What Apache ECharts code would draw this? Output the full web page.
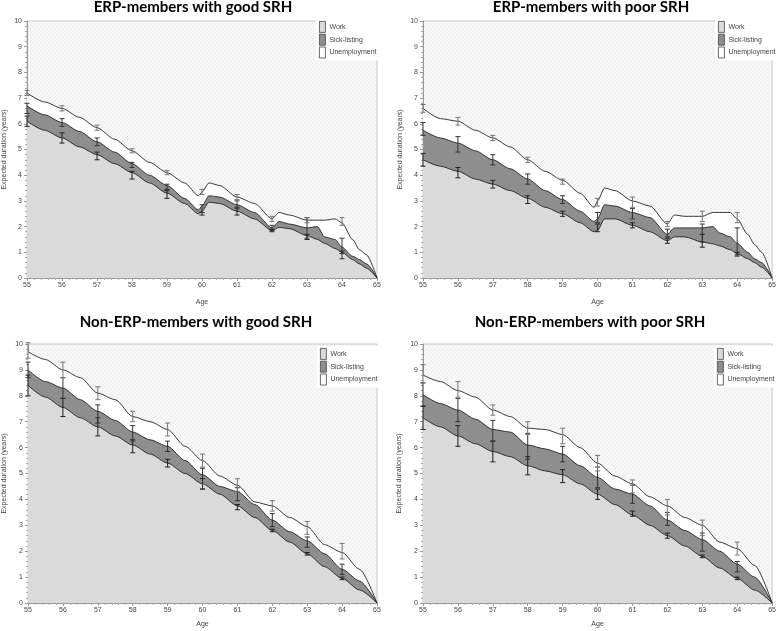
<!DOCTYPE html>
<html><head><meta charset="utf-8">
<script src="https://cdn.jsdelivr.net/npm/echarts@6/dist/echarts.min.js"></script>
<style>html,body{margin:0;padding:0;background:#fff}#c{width:779px;height:631px}</style>
</head><body><div id="c"></div>
<script>
// ---------- data ----------
const titles = ['ERP-members with good SRH','ERP-members with poor SRH','Non-ERP-members with good SRH','Non-ERP-members with poor SRH'];
const legendNames = ['Work','Sick-listing','Unemployment'];
const xTicks = [55,56,57,58,59,60,61,62,63,64,65];
const yTicks = [0,1,2,3,4,5,6,7,8,9,10];

// age grid for ERP panels
const agesTop = [55,55.5,56,56.5,57,57.5,58,58.5,59,59.5,59.9,60,60.2,60.5,61,61.5,62,62.2,62.5,63,63.3,63.5,63.8,64,64.3,64.5,64.7,65];
// age grid for non-ERP panels
const agesBottom = [55,55.5,56,56.5,57,57.5,58,58.5,59,59.5,60,60.5,61,61.5,62,62.5,63,63.5,64,64.5,65];

// panel 1: ERP good SRH (cumulative boundaries)
const p1Work  = [6.1,5.75,5.45,5.1,4.8,4.45,4.1,3.7,3.3,2.9,2.5,2.6,2.95,2.9,2.6,2.3,1.85,1.97,1.92,1.65,1.5,1.35,1.15,1.0,0.72,0.55,0.38,0];
const p1Sick  = [6.7,6.35,6.05,5.7,5.3,4.9,4.45,4.0,3.6,3.1,2.65,2.8,3.2,3.15,2.85,2.55,1.95,2.2,2.1,1.95,2.0,1.6,1.5,1.2,0.85,0.72,0.55,0];
const p1Total = [7.2,6.85,6.6,6.25,5.85,5.4,4.95,4.5,4.1,3.7,3.2,3.35,3.7,3.6,3.15,2.9,2.3,2.55,2.45,2.25,2.25,2.25,2.3,2.15,1.5,1.1,0.9,0];
// panel 2: ERP poor SRH
const p2Work  = [4.6,4.35,4.15,3.85,3.65,3.4,3.1,2.75,2.5,2.15,1.8,1.85,2.3,2.3,2.05,1.8,1.45,1.6,1.6,1.4,1.33,1.25,1.1,0.95,0.75,0.6,0.42,0];
const p2Sick  = [5.75,5.45,5.25,4.95,4.6,4.25,3.85,3.4,3.05,2.6,2.2,2.3,2.85,2.8,2.55,2.35,1.7,1.95,1.95,1.95,2.0,1.75,1.6,1.35,1.0,0.75,0.6,0];
const p2Total = [6.6,6.2,6.1,5.75,5.45,5.1,4.6,4.15,3.8,3.3,2.75,3.0,3.5,3.4,3.0,2.8,2.1,2.45,2.4,2.4,2.55,2.55,2.55,2.3,1.7,1.3,1.0,0];
// panel 3: non-ERP good SRH
const p3Work  = [8.4,7.95,7.55,7.15,6.8,6.45,6.1,5.75,5.4,5.0,4.6,4.2,3.75,3.3,2.8,2.35,1.9,1.4,0.95,0.5,0];
const p3Sick  = [9.0,8.55,8.3,7.85,7.4,7.05,6.6,6.3,6.05,5.5,4.95,4.5,4.3,3.8,3.2,2.75,2.4,1.9,1.3,0.85,0];
const p3Total = [9.7,9.4,9.0,8.7,8.1,7.85,7.2,7.0,6.7,6.05,5.5,4.9,4.55,3.9,3.75,3.3,2.95,2.25,1.95,1.3,0];
// panel 4: non-ERP poor SRH
const p4Work  = [7.15,6.8,6.45,6.15,5.85,5.65,5.3,5.1,4.95,4.6,4.2,3.8,3.4,3.0,2.6,2.2,1.8,1.35,0.95,0.5,0];
const p4Sick  = [8.05,7.7,7.45,7.1,6.7,6.6,6.1,5.95,5.75,5.3,4.85,4.4,4.2,3.75,3.2,2.8,2.45,2.0,1.5,1.0,0];
const p4Total = [8.8,8.55,8.2,7.95,7.45,7.2,6.75,6.7,6.5,6.0,5.4,4.9,4.6,4.1,3.75,3.3,3.0,2.35,2.1,1.45,0];

// error bars at integer ages: estimate and half-width
const errAges = [55,56,57,58,59,60,61,62,63,64];
const p1WorkMid  = [6.1,5.45,4.75,4.0,3.25,2.5,2.6,1.85,1.6,1.0];
const p1WorkHalf = [0.2,0.2,0.15,0.15,0.15,0.05,0.15,0.05,0.1,0.05];
const p1SickMid  = [6.6,6.05,5.3,4.4,3.55,2.7,2.85,1.95,1.95,1.15];
const p1SickHalf = [0.2,0.15,0.15,0.1,0.1,0.15,0.15,0.1,0.4,0.4];
const p1TotMid   = [7.2,6.6,5.85,4.95,4.1,3.35,3.15,2.3,2.25,2.2];
const p1TotHalf  = [0.1,0.1,0.1,0.08,0.08,0.1,0.1,0.1,0.1,0.15];

const p2WorkMid  = [4.6,4.1,3.65,3.05,2.5,1.95,2.05,1.45,1.45,0.95];
const p2WorkHalf = [0.25,0.2,0.15,0.15,0.1,0.15,0.1,0.1,0.25,0.05];
const p2SickMid  = [5.8,5.2,4.6,3.85,3.05,2.35,2.5,1.75,1.75,1.4];
const p2SickHalf = [0.25,0.3,0.2,0.2,0.15,0.2,0.2,0.15,0.35,0.55];
const p2TotMid   = [6.6,6.1,5.45,4.6,3.75,2.95,2.95,2.1,2.4,2.35];
const p2TotHalf  = [0.15,0.15,0.1,0.1,0.1,0.15,0.2,0.1,0.2,0.2];

const p3WorkMid  = [8.4,7.55,6.8,6.05,5.4,4.6,3.7,2.8,1.9,0.95];
const p3WorkHalf = [0.4,0.35,0.35,0.25,0.15,0.2,0.1,0.05,0.05,0.05];
const p3SickMid  = [9.0,8.3,7.3,6.55,6.05,4.8,4.2,3.2,2.35,1.3];
const p3SickHalf = [0.3,0.4,0.35,0.3,0.2,0.4,0.25,0.25,0.2,0.2];
const p3TotMid   = [9.75,9.0,8.1,7.2,6.7,5.5,4.55,3.75,2.9,2.0];
const p3TotHalf  = [0.3,0.3,0.25,0.2,0.25,0.25,0.25,0.2,0.25,0.3];

const p4WorkMid  = [7.15,6.45,5.85,5.3,4.9,4.2,3.45,2.6,1.8,0.95];
const p4WorkHalf = [0.45,0.4,0.4,0.35,0.25,0.2,0.1,0.1,0.05,0.05];
const p4SickMid  = [8.05,7.45,6.65,6.05,5.75,4.85,4.2,3.25,2.35,1.4];
const p4SickHalf = [0.45,0.45,0.4,0.5,0.3,0.4,0.35,0.25,0.35,0.2];
const p4TotMid   = [8.85,8.25,7.45,6.75,6.45,5.4,4.5,3.7,2.9,2.1];
const p4TotHalf  = [0.35,0.3,0.2,0.25,0.3,0.3,0.25,0.3,0.3,0.25];

// ---------- layout / style ----------
const panels = [
  {ages: agesTop, work: p1Work, sick: p1Sick, total: p1Total,
   err: [[p1WorkMid,p1WorkHalf],[p1SickMid,p1SickHalf],[p1TotMid,p1TotHalf]],
   grid: {left: 24, top: 21, width: 353, height: 257}, legend: {left: 316, top: 19},
   title: {x: 193, y: 7}, yName: 19, xName: 21},
  {ages: agesTop, work: p2Work, sick: p2Sick, total: p2Total,
   err: [[p2WorkMid,p2WorkHalf],[p2SickMid,p2SickHalf],[p2TotMid,p2TotHalf]],
   grid: {left: 423, top: 21, width: 353, height: 257}, legend: {left: 715, top: 19},
   title: {x: 591, y: 7}, yName: 19, xName: 21},
  {ages: agesBottom, work: p3Work, sick: p3Sick, total: p3Total,
   err: [[p3WorkMid,p3WorkHalf],[p3SickMid,p3SickHalf],[p3TotMid,p3TotHalf]],
   grid: {left: 25, top: 344, width: 352, height: 259}, legend: {left: 317, top: 346},
   title: {x: 196, y: 322}, yName: 20, xName: 18},
  {ages: agesBottom, work: p4Work, sick: p4Sick, total: p4Total,
   err: [[p4WorkMid,p4WorkHalf],[p4SickMid,p4SickHalf],[p4TotMid,p4TotHalf]],
   grid: {left: 423, top: 344, width: 352, height: 259}, legend: {left: 714, top: 346},
   title: {x: 590, y: 322}, yName: 20, xName: 18}
];
const fillWork = '#dadada', fillSick = '#8e8e8e', fillUnemp = '#ffffff';
const errColors = ['#222', '#333', '#777'];

function bgPattern() {
  const c = document.createElement('canvas');
  c.width = 4; c.height = 4;
  const ctx = c.getContext('2d');
  ctx.fillStyle = '#f7f7f7'; ctx.fillRect(0, 0, 4, 4);
  ctx.fillStyle = '#ededed';
  for (let i = 0; i < 4; i++) ctx.fillRect(i, 3 - i, 1, 1);
  return {image: c, repeat: 'repeat'};
}
const pattern = bgPattern();

const grids = [], xAxes = [], yAxes = [], series = [], legends = [], graphics = [];
const axisFont = {fontSize: 7, color: '#444', fontFamily: 'Liberation Sans'};

panels.forEach((p, i) => {
  grids.push(Object.assign({show: true, backgroundColor: pattern, borderColor: '#c8c8c8', borderWidth: 1, containLabel: false}, p.grid));
  xAxes.push({type: 'value', gridIndex: i, min: xTicks[0], max: xTicks[xTicks.length - 1], interval: 1,
    name: 'Age', nameLocation: 'middle', nameGap: p.xName, nameTextStyle: axisFont,
    axisLine: {show: true, lineStyle: {color: '#999'}}, axisTick: {show: true, length: 3, lineStyle: {color: '#999'}},
    minorTick: {show: true, splitNumber: 5, length: 2, lineStyle: {color: '#aaa'}},
    axisLabel: Object.assign({margin: 4}, axisFont), splitLine: {show: false}});
  yAxes.push({type: 'value', gridIndex: i, min: yTicks[0], max: yTicks[yTicks.length - 1], interval: 1,
    name: 'Expected duration (years)', nameLocation: 'middle', nameRotate: 90, nameGap: p.yName, nameTextStyle: axisFont,
    axisLine: {show: true, lineStyle: {color: '#999'}}, axisTick: {show: true, length: 3, lineStyle: {color: '#999'}},
    minorTick: {show: true, splitNumber: 5, length: 2, lineStyle: {color: '#aaa'}},
    axisLabel: Object.assign({margin: 5}, axisFont), splitLine: {show: false}});
  const mk = (name, vals, fill) => ({
    name, type: 'line', xAxisIndex: i, yAxisIndex: i, showSymbol: false, symbol: 'none',
    data: p.ages.map((a, k) => [a, vals[k]]), smooth: 0.25, smoothMonotone: 'x',
    itemStyle: {color: fill}, lineStyle: {color: '#222', width: 0.9},
    areaStyle: {color: fill, opacity: 1, origin: 'start'}, z: 2, silent: true
  });
  series.push(mk('Unemployment', p.total, fillUnemp));
  series.push(mk('Sick-listing', p.sick, fillSick));
  series.push(mk('Work', p.work, fillWork));
  p.err.forEach((pair, j) => {
    const mid = pair[0], half = pair[1];
    series.push({
      type: 'custom', xAxisIndex: i, yAxisIndex: i, z: 5, silent: true,
      data: errAges.map((a, k) => [a, mid[k] - half[k], mid[k] + half[k]]),
      renderItem: (params, api) => {
        const x = api.value(0);
        const lo = api.coord([x, api.value(1)]);
        const hi = api.coord([x, api.value(2)]);
        const w = 2.5;
        const st = {stroke: errColors[j], lineWidth: 1, fill: null};
        return {type: 'group', children: [
          {type: 'line', shape: {x1: lo[0], y1: lo[1], x2: hi[0], y2: hi[1]}, style: st},
          {type: 'line', shape: {x1: lo[0] - w, y1: lo[1], x2: lo[0] + w, y2: lo[1]}, style: st},
          {type: 'line', shape: {x1: hi[0] - w, y1: hi[1], x2: hi[0] + w, y2: hi[1]}, style: st}
        ]};
      }
    });
  });
  legends.push({
    left: p.legend.left, top: p.legend.top, orient: 'vertical', icon: 'rect',
    itemWidth: 6, itemHeight: 11, itemGap: 1, padding: [2, 5, 2, 3],
    backgroundColor: '#fff', selectedMode: false,
    textStyle: {fontSize: 7, color: '#444', fontFamily: 'Liberation Sans', padding: [0, 0, 0, -1]},
    data: [
      {name: legendNames[0], itemStyle: {color: fillWork, borderColor: '#444', borderWidth: 0.8}},
      {name: legendNames[1], itemStyle: {color: fillSick, borderColor: '#444', borderWidth: 0.8}},
      {name: legendNames[2], itemStyle: {color: fillUnemp, borderColor: '#444', borderWidth: 0.8}}
    ]
  });
  graphics.push({type: 'text', x: p.title.x, y: p.title.y,
    style: {text: titles[i], textAlign: 'center', textVerticalAlign: 'middle',
      font: 'bold 15px Lato', fill: '#000'}});
});

const chart = echarts.init(document.getElementById('c'), null, {renderer: 'canvas'});
chart.setOption({
  animation: false,
  backgroundColor: '#fff',
  grid: grids, xAxis: xAxes, yAxis: yAxes, series, legend: legends, graphic: graphics
});
</script></body></html>
